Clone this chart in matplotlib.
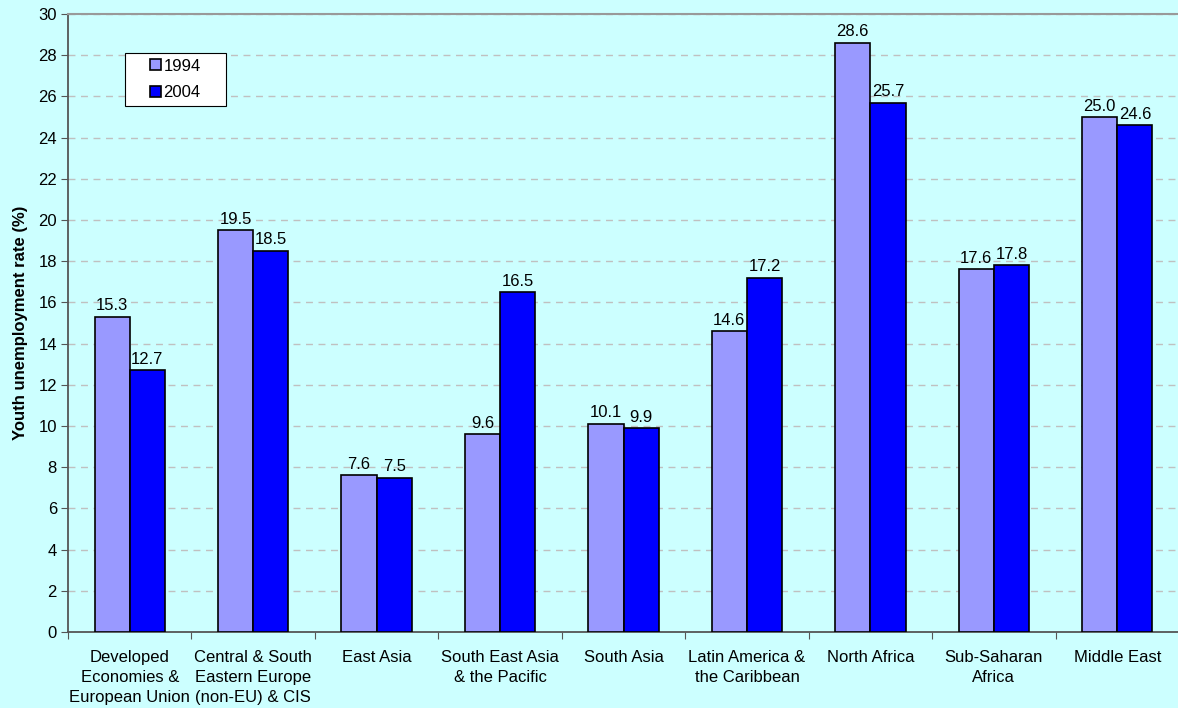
import numpy as np
import matplotlib.pyplot as plt
from matplotlib.patches import Rectangle

plt.rcParams['font.family'] = ['Liberation Sans', 'DejaVu Sans']

regions = ["Developed\nEconomies &\nEuropean Union", "Central & South\nEastern Europe\n(non-EU) & CIS",
           "East Asia", "South East Asia\n& the Pacific", "South Asia",
           "Latin America &\nthe Caribbean", "North Africa", "Sub-Saharan\nAfrica", "Middle East"]
rate_1994 = [15.3, 19.5, 7.6, 9.6, 10.1, 14.6, 28.6, 17.6, 25.0]
rate_2004 = [12.7, 18.5, 7.5, 16.5, 9.9, 17.2, 25.7, 17.8, 24.6]

bg = '#CCFFFF'
fs = 12
fig = plt.figure(figsize=(11.78, 7.08), dpi=100, facecolor=bg)
ax = fig.add_axes([68/1178, 76/708, 1111/1178, 618/708], facecolor=bg)

x = np.arange(len(regions))
w = 0.285
b1 = ax.bar(x - w/2, rate_1994, w, color='#9999FF', edgecolor='black', linewidth=1.2, label='1994', zorder=3)
b2 = ax.bar(x + w/2, rate_2004, w, color='#0000FF', edgecolor='black', linewidth=1.2, label='2004', zorder=3)

for bars, vals in ((b1, rate_1994), (b2, rate_2004)):
    for b, v in zip(bars, vals):
        ax.annotate(f"{v:.1f}", (b.get_x() + b.get_width()/2, v), xytext=(0, 2.5),
                    textcoords='offset points', ha='center', va='bottom', fontsize=fs)

ax.set_xlim(-0.5, len(regions) - 0.5)
ax.set_ylim(0, 30)
ax.set_yticks(range(0, 31, 2))
ax.yaxis.grid(True, linestyle=(0, (5, 4)), color='#C0C0C0', linewidth=1, zorder=0)
ax.set_axisbelow(True)

ax.set_xticks(np.arange(-0.5, len(regions) - 0.4, 1))
ax.set_xticklabels([])
ax.set_xticks(x, minor=True)
ax.set_xticklabels(regions, minor=True, fontsize=fs, linespacing=1.4)
ax.tick_params(axis='x', which='minor', length=0, pad=13)
ax.tick_params(axis='x', which='major', length=5, direction='out', color='#555555')
ax.tick_params(axis='y', length=5, direction='out', labelsize=fs, color='#555555', pad=3)

ax.set_ylabel('Youth unemployment rate (%)', fontsize=fs, fontweight='bold', labelpad=7)

ax.spines['top'].set_color('#999999')
ax.spines['top'].set_linewidth(1.5)
ax.spines['right'].set_visible(False)
ax.spines['left'].set_color('#555555')
ax.spines['left'].set_linewidth(1.3)
ax.spines['bottom'].set_color('#555555')
ax.spines['bottom'].set_linewidth(1.3)

# legend box drawn separately so it can be wider than the entries
ax.add_patch(Rectangle((57/1111, 526/618), 101/1111, 53/618, transform=ax.transAxes,
                       facecolor='white', edgecolor='black', linewidth=0.8, zorder=5))
leg = ax.legend(loc='center', bbox_to_anchor=(107.5/1111, 552.5/618), fontsize=fs, frameon=False,
                handlelength=0.65, handleheight=0.65, handletextpad=0.15, labelspacing=0.7,
                borderpad=0, borderaxespad=0)
leg.set_zorder(6)

fig.savefig('out.png', dpi=100, facecolor=bg)
